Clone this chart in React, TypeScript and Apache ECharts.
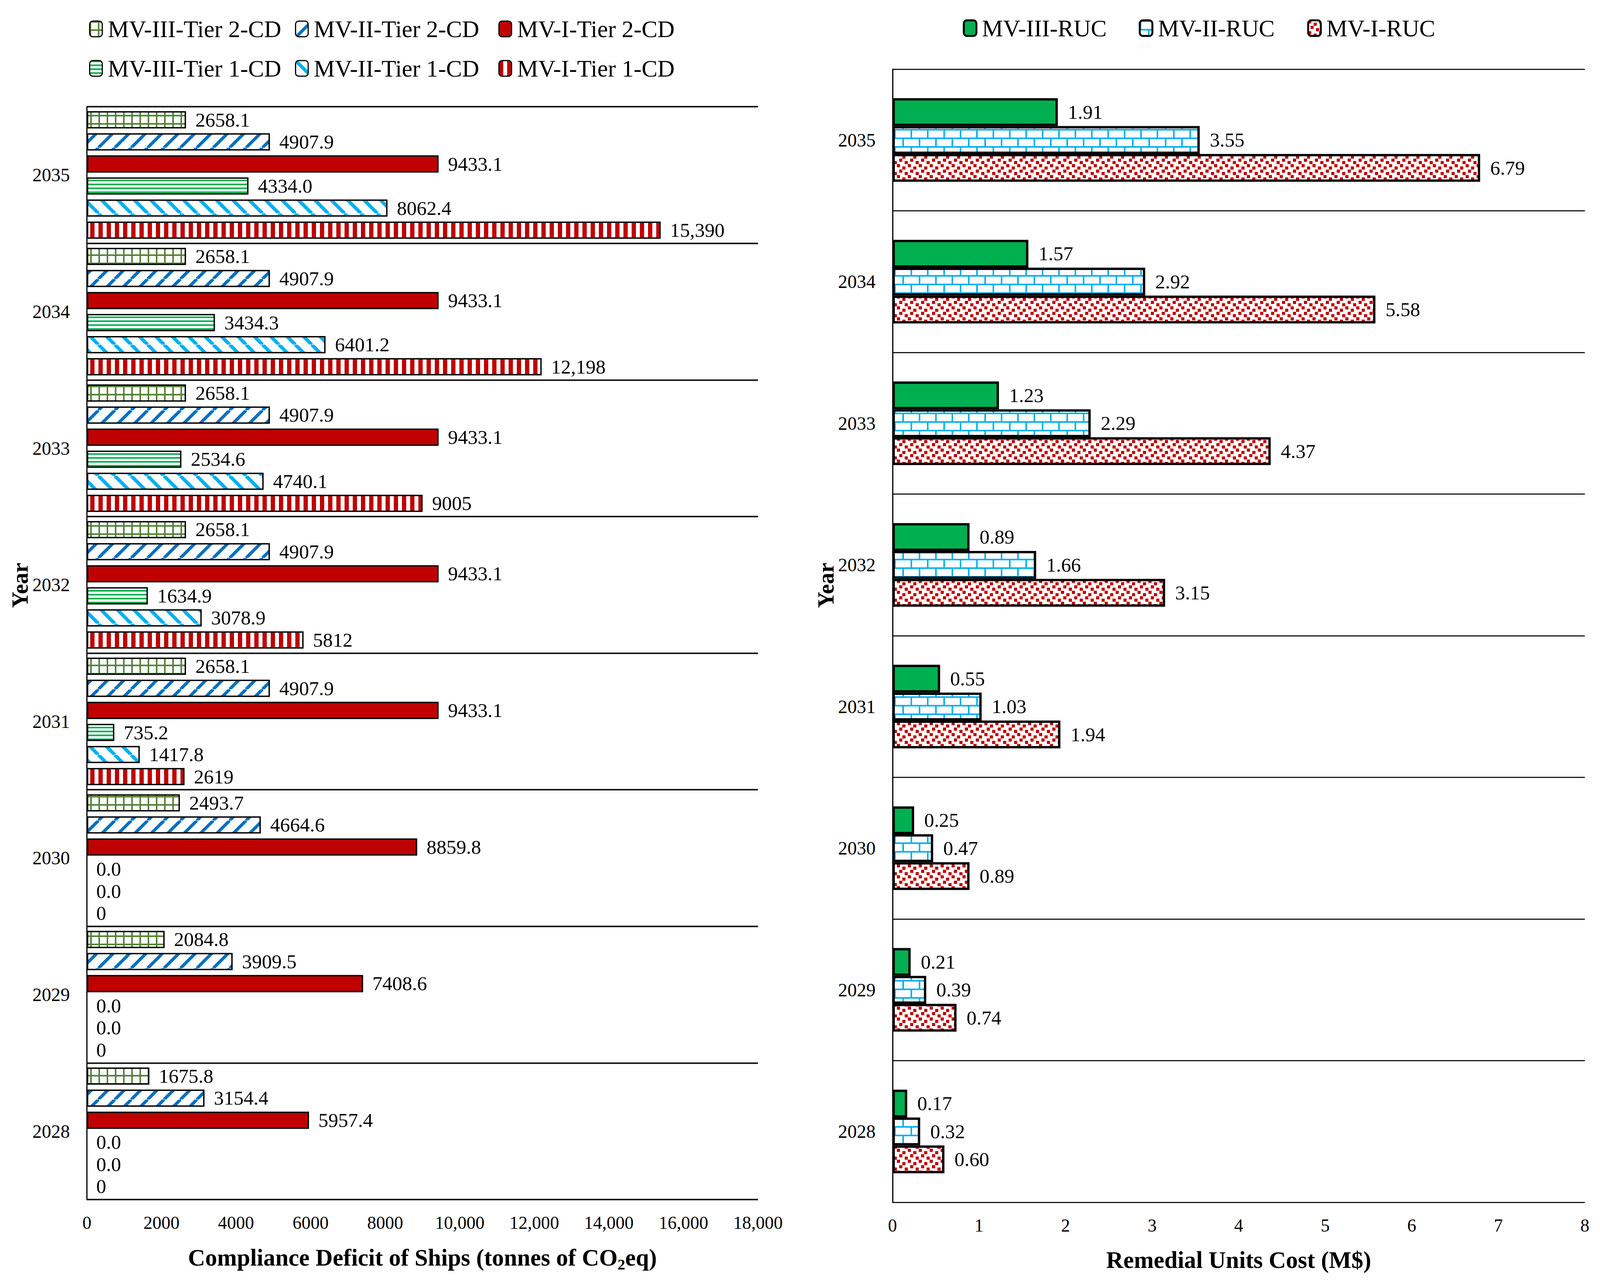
import { useEffect, useRef } from "react";
import * as echarts from "echarts";

const FONT = "'Liberation Serif', 'Times New Roman', serif";

// categories (bottom to top)
const years = ["2028", "2029", "2030", "2031", "2032", "2033", "2034", "2035"];

// compliance deficit, tonnes CO2eq
const mv3Tier2 = [1675.8, 2084.8, 2493.7, 2658.1, 2658.1, 2658.1, 2658.1, 2658.1];
const mv2Tier2 = [3154.4, 3909.5, 4664.6, 4907.9, 4907.9, 4907.9, 4907.9, 4907.9];
const mv1Tier2 = [5957.4, 7408.6, 8859.8, 9433.1, 9433.1, 9433.1, 9433.1, 9433.1];
const mv3Tier1 = [0, 0, 0, 735.2, 1634.9, 2534.6, 3434.3, 4334.0];
const mv2Tier1 = [0, 0, 0, 1417.8, 3078.9, 4740.1, 6401.2, 8062.4];
const mv1Tier1 = [0, 0, 0, 2619, 5812, 9005, 12198, 15390];

// remedial units cost, M$
const mv3Ruc = [0.17, 0.21, 0.25, 0.55, 0.89, 1.23, 1.57, 1.91];
const mv2Ruc = [0.32, 0.39, 0.47, 1.03, 1.66, 2.29, 2.92, 3.55];
const mv1Ruc = [0.6, 0.74, 0.89, 1.94, 3.15, 4.37, 5.58, 6.79];

const cdAxis = { min: 0, max: 18000, interval: 2000 };
const rucAxis = { min: 0, max: 8, interval: 1 };

// reference canvas the layout numbers below were measured on
const REF_W = 4437;
const REF_H = 3281;

function tile(w: number, h: number, draw: (ctx: CanvasRenderingContext2D) => void) {
  const c = document.createElement("canvas");
  c.width = w;
  c.height = h;
  const ctx = c.getContext("2d") as CanvasRenderingContext2D;
  ctx.fillStyle = "#fff";
  ctx.fillRect(0, 0, w, h);
  draw(ctx);
  return { image: c, repeat: "repeat", imageWidth: w, imageHeight: h };
}

function makePatterns() {
  const oliveGrid = tile(21, 21, (ctx) => {
    ctx.fillStyle = "#548235";
    ctx.fillRect(0, 0, 21, 4);
    ctx.fillRect(0, 0, 4, 21);
  });
  const blueFwd = tile(42, 42, (ctx) => {
    ctx.strokeStyle = "#0070C0";
    ctx.lineWidth = 8;
    for (const k of [-42, 0, 42]) {
      ctx.beginPath();
      ctx.moveTo(k, 42);
      ctx.lineTo(k + 42, 0);
      ctx.stroke();
    }
  });
  const greenHoriz = tile(10, 10, (ctx) => {
    ctx.fillStyle = "#00B050";
    ctx.fillRect(0, 0, 10, 4);
  });
  const skyBack = tile(42, 42, (ctx) => {
    ctx.strokeStyle = "#00B0F0";
    ctx.lineWidth = 9;
    for (const k of [-42, 0, 42]) {
      ctx.beginPath();
      ctx.moveTo(k, 0);
      ctx.lineTo(k + 42, 42);
      ctx.stroke();
    }
  });
  const redVert = tile(21, 10, (ctx) => {
    ctx.fillStyle = "#C00000";
    ctx.fillRect(0, 0, 11, 10);
  });
  const brick = tile(84, 44, (ctx) => {
    ctx.fillStyle = "#00B0F0";
    ctx.fillRect(0, 0, 84, 4);
    ctx.fillRect(0, 22, 84, 4);
    ctx.fillRect(0, 0, 4, 22);
    ctx.fillRect(42, 0, 4, 22);
    ctx.fillRect(21, 22, 4, 22);
    ctx.fillRect(63, 22, 4, 22);
  });
  const confetti = tile(28, 28, (ctx) => {
    ctx.fillStyle = "#C00000";
    ctx.fillRect(0, 0, 8, 8);
    ctx.fillRect(14, 6, 8, 8);
    ctx.fillRect(6, 14, 8, 8);
    ctx.fillRect(20, 20, 8, 8);
  });
  return { oliveGrid, blueFwd, greenHoriz, skyBack, redVert, brick, confetti };
}

const withZeroBorder = (vals: number[]) =>
  vals.map((v) => (v === 0 ? { value: v, itemStyle: { borderWidth: 0 } } : v));

const App = () => {
  const chartRef = useRef<HTMLDivElement>(null);

  useEffect(() => {
    const chart = echarts.init(chartRef.current, null, { renderer: "svg" });
    const p = makePatterns();

    // scale the measured layout to whatever viewport we get
    const W = chart.getWidth();
    const H = chart.getHeight();
    const sx = W / REF_W;
    const sy = H / REF_H;
    const fs = Math.min(sx, sy);
    const X = (v: number) => v * sx;
    const Y = (v: number) => v * sy;
    const F = (v: number) => v * fs;

    const oneDec = (v: number) => v.toFixed(1);
    const whole = (v: number) => (v >= 10000 ? v.toLocaleString("en-US") : String(v));
    const twoDec = (v: number) => v.toFixed(2);

    const leftSeries = [
      { name: "MV-III-Tier 2-CD", data: mv3Tier2, color: p.oliveGrid, fmt: oneDec },
      { name: "MV-II-Tier 2-CD", data: mv2Tier2, color: p.blueFwd, fmt: oneDec },
      { name: "MV-I-Tier 2-CD", data: mv1Tier2, color: "#C00000", fmt: oneDec },
      { name: "MV-III-Tier 1-CD", data: mv3Tier1, color: p.greenHoriz, fmt: oneDec },
      { name: "MV-II-Tier 1-CD", data: mv2Tier1, color: p.skyBack, fmt: oneDec },
      { name: "MV-I-Tier 1-CD", data: mv1Tier1, color: p.redVert, fmt: whole },
    ];
    const rightSeries = [
      { name: "MV-III-RUC", data: mv3Ruc, color: "#00B050", fmt: twoDec },
      { name: "MV-II-RUC", data: mv2Ruc, color: p.brick, fmt: twoDec },
      { name: "MV-I-RUC", data: mv1Ruc, color: p.confetti, fmt: twoDec },
    ];

    const legendPos = [
      { name: "MV-III-Tier 2-CD", left: 247, cy: 74, bw: 3 },
      { name: "MV-II-Tier 2-CD", left: 818, cy: 74, bw: 3 },
      { name: "MV-I-Tier 2-CD", left: 1382, cy: 74, bw: 3 },
      { name: "MV-III-Tier 1-CD", left: 247, cy: 175, bw: 3 },
      { name: "MV-II-Tier 1-CD", left: 818, cy: 175, bw: 3 },
      { name: "MV-I-Tier 1-CD", left: 1382, cy: 175, bw: 3 },
      { name: "MV-III-RUC", left: 2670, cy: 72, bw: 5 },
      { name: "MV-II-RUC", left: 3158, cy: 72, bw: 5 },
      { name: "MV-I-RUC", left: 3625, cy: 72, bw: 5 },
    ];

    const catAxis = (gridIndex: number, splitWidth: number) => ({
      type: "category",
      gridIndex,
      data: years,
      axisLine: { show: true, lineStyle: { color: "#000", width: 3 } },
      axisTick: { show: false },
      axisLabel: { color: "#000", fontSize: F(52), fontFamily: FONT, margin: X(47) },
      splitLine: { show: true, lineStyle: { color: "#1a1a1a", width: splitWidth } },
    });

    const valAxis = (gridIndex: number, range: any, fmt: (v: number) => string, name: any, nameGap: number) => ({
      type: "value",
      gridIndex,
      ...range,
      axisLine: { show: false },
      axisTick: { show: false },
      splitLine: { show: false },
      axisLabel: { color: "#000", fontSize: F(50), fontFamily: FONT, margin: Y(36), formatter: fmt },
      name,
      nameLocation: "middle",
      nameGap: Y(nameGap),
      nameTextStyle: {
        color: "#000",
        fontSize: F(66),
        fontWeight: "bold",
        fontFamily: FONT,
        rich: {
          a: { fontSize: F(66), fontWeight: "bold", fontFamily: FONT, lineHeight: F(66), verticalAlign: "top", color: "#000" },
          sub: {
            fontSize: F(42),
            fontWeight: "bold",
            fontFamily: FONT,
            lineHeight: F(42),
            verticalAlign: "top",
            padding: [F(30), 0, 0, 0],
            color: "#000",
          },
        },
      },
    });

    const yearLabel = (x: number) => ({
      type: "text",
      x: X(x),
      y: Y(1498),
      rotation: Math.PI / 2,
      style: {
        text: "Year",
        fontSize: F(63),
        fontWeight: "bold",
        fontFamily: FONT,
        fill: "#000",
        align: "center",
        verticalAlign: "middle",
      },
    });

    const options = {
      animation: false,
      backgroundColor: "#fff",
      textStyle: { fontFamily: FONT },
      legend: legendPos.map((l) => ({
        data: [l.name],
        left: X(l.left),
        top: Y(l.cy) - F(33),
        padding: 0,
        itemWidth: X(35),
        itemHeight: Y(40),
        selectedMode: false,
        itemStyle: { borderColor: "#000", borderWidth: l.bw },
        textStyle: { color: "#000", fontSize: F(66), fontFamily: FONT, padding: [0, 0, 0, X(10)] },
      })),
      grid: [
        { left: X(241), right: X(REF_W - 2102), top: Y(273), bottom: Y(REF_H - 3070) },
        { left: X(2475), right: X(REF_W - 4395), top: Y(177), bottom: Y(REF_H - 3077) },
      ],
      xAxis: [
        valAxis(
          0,
          cdAxis,
          (v: number) => (v >= 10000 ? v.toLocaleString("en-US") : String(v)),
          "{a|Compliance Deficit of Ships (tonnes of CO}{sub|2}{a|eq)}",
          118
        ),
        valAxis(1, rucAxis, (v: number) => String(v), "{a|Remedial Units Cost (M$)}", 117),
      ],
      yAxis: [catAxis(0, 4), catAxis(1, 3)],
      graphic: [yearLabel(56), yearLabel(2290)],
      series: [
        ...leftSeries.map((s) => ({
          name: s.name,
          type: "bar",
          xAxisIndex: 0,
          yAxisIndex: 0,
          data: withZeroBorder(s.data),
          barGap: "28%",
          barCategoryGap: "6.6%",
          itemStyle: { color: s.color, borderColor: "#000", borderWidth: 3.5 },
          label: {
            show: true,
            position: "right",
            distance: X(26),
            color: "#000",
            fontSize: F(55),
            fontFamily: FONT,
            formatter: (prm: any) => s.fmt(prm.value),
          },
        })),
        ...rightSeries.map((s) => ({
          name: s.name,
          type: "bar",
          xAxisIndex: 1,
          yAxisIndex: 1,
          data: s.data,
          barGap: "0%",
          barCategoryGap: "41%",
          itemStyle: { color: s.color, borderColor: "#000", borderWidth: 6 },
          label: {
            show: true,
            position: "right",
            distance: X(28),
            color: "#000",
            fontSize: F(55),
            fontFamily: FONT,
            formatter: (prm: any) => s.fmt(prm.value),
          },
        })),
      ],
    };

    chart.setOption(options as any);

    const handleResize = () => chart.resize();
    window.addEventListener("resize", handleResize);
    return () => {
      window.removeEventListener("resize", handleResize);
      chart.dispose();
    };
  }, []);

  return (
    <div
      ref={chartRef}
      style={{ position: "fixed", left: 0, top: 0, width: "100vw", height: "100vh", background: "#fff" }}
    />
  );
};

export default App;
